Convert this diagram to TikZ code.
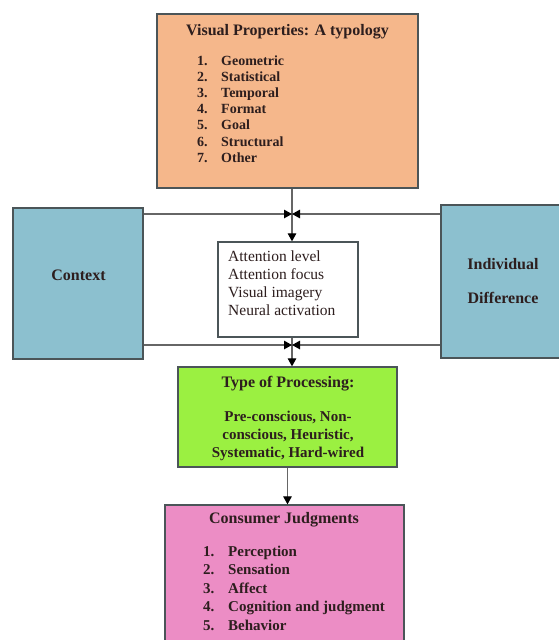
\documentclass[tikz,border=0pt]{standalone}
\usepackage{fontspec}
\setmainfont{Liberation Serif}
\usetikzlibrary{arrows.meta}
\definecolor{typorange}{RGB}{245,183,139}
\definecolor{ctxblue}{RGB}{140,192,207}
\definecolor{procgreen}{RGB}{155,240,65}
\definecolor{judgpink}{RGB}{236,141,197}
\definecolor{edgegray}{RGB}{75,85,88}
\definecolor{inkdark}{RGB}{45,30,30}
\tikzset{
  panel/.style={draw=edgegray,line width=1.3pt,inner sep=0pt},
  flow/.style={draw=black!60,line width=1.2pt},
  flowtip/.style={flow,-{Triangle[length=8pt,width=8.5pt,color=black]}},
  head/.style={font=\bfseries\fontsize{16}{18}\selectfont,text=inkdark,anchor=base,inner sep=0pt},
  listtext/.style={font=\bfseries\fontsize{14}{16}\selectfont,text=inkdark,anchor=base west,inner sep=0pt},
  bodytext/.style={font=\bfseries\fontsize{15}{17}\selectfont,text=inkdark,anchor=base,inner sep=0pt},
  plaintext/.style={font=\fontsize{15.5}{18}\selectfont,text=inkdark,anchor=base west,inner sep=0pt},
}
\begin{document}
\begin{tikzpicture}[x=1pt,y=-1pt]
		\useasboundingbox (0,0) rectangle (559,640);
		%typology
		\node[panel,fill=typorange,minimum width=261pt,minimum height=174pt] (typology) at (287.5,101) {};
		\node[head] (typtitle) at (287.5,35) {Visual Properties: A typology};
		\foreach \entry [count=\i] in {Geometric,Statistical,Temporal,Format,Goal,Structural,Other}{
			\node[listtext] (typnum\i) at (197,{65+16.2*(\i-1)}) {\i.};
			\node[listtext] (typ\i) at (221,{65+16.2*(\i-1)}) {\entry};
		}
		%context
		\node[panel,fill=ctxblue,minimum width=130pt,minimum height=151pt] (context) at (78,283.5) {};
		\node[head] (ctxtext) at (78.5,280) {Context};
		%individual difference
		\node[panel,fill=ctxblue,minimum width=130pt,minimum height=153pt] (individual) at (506,281.5) {};
		\node[head] (indtext1) at (503,269) {Individual};
		\node[head] (indtext2) at (503,303) {Difference};
		%attention
		\node[panel,fill=white,minimum width=140pt,minimum height=95pt] (attention) at (288,289.5) {};
		\foreach \entry [count=\i] in {Attention level,Attention focus,Visual imagery,Neural activation}{
			\node[plaintext] (att\i) at (228,{261+18*(\i-1)}) {\entry};
		}
		%processing
		\node[panel,fill=procgreen,minimum width=219pt,minimum height=100pt] (process) at (287.5,417) {};
		\node[head] (proctitle) at (288,387) {Type of Processing:};
		\node[bodytext] (proc1) at (288,421) {Pre-conscious, Non-};
		\node[bodytext] (proc2) at (288,439) {conscious, Heuristic,};
		\node[bodytext] (proc3) at (288,457) {Systematic, Hard-wired};
		%judgments
		\node[panel,fill=judgpink,minimum width=239pt,minimum height=145pt] (judgments) at (284.5,577.5) {};
		\node[head] (judgtitle) at (284,523) {Consumer Judgments};
		\foreach \entry [count=\i] in {Perception,Sensation,Affect,Cognition and judgment,Behavior}{
			\node[listtext,font=\bfseries\fontsize{15}{17}\selectfont] (judgnum\i) at (203,{556+18.5*(\i-1)}) {\i.};
			\node[listtext,font=\bfseries\fontsize{15}{17}\selectfont] (judg\i) at (228,{556+18.5*(\i-1)}) {\entry};
		}
		%connectors
		\coordinate (upjoin) at (292,214);
		\coordinate (lowjoin) at (292,345);
		\draw[flowtip] (typology.south -| upjoin) -- (attention.north -| upjoin);
		\draw[flowtip] (context.east |- upjoin) -- (upjoin);
		\draw[flowtip] (individual.west |- upjoin) -- (upjoin);
		\draw[flowtip] (attention.south -| lowjoin) -- (process.north -| lowjoin);
		\draw[flowtip] (context.east |- lowjoin) -- (lowjoin);
		\draw[flowtip] (individual.west |- lowjoin) -- (lowjoin);
		\draw[flowtip] (process.south) -- (process.south |- judgments.north);
	\end{tikzpicture}
\end{document}
